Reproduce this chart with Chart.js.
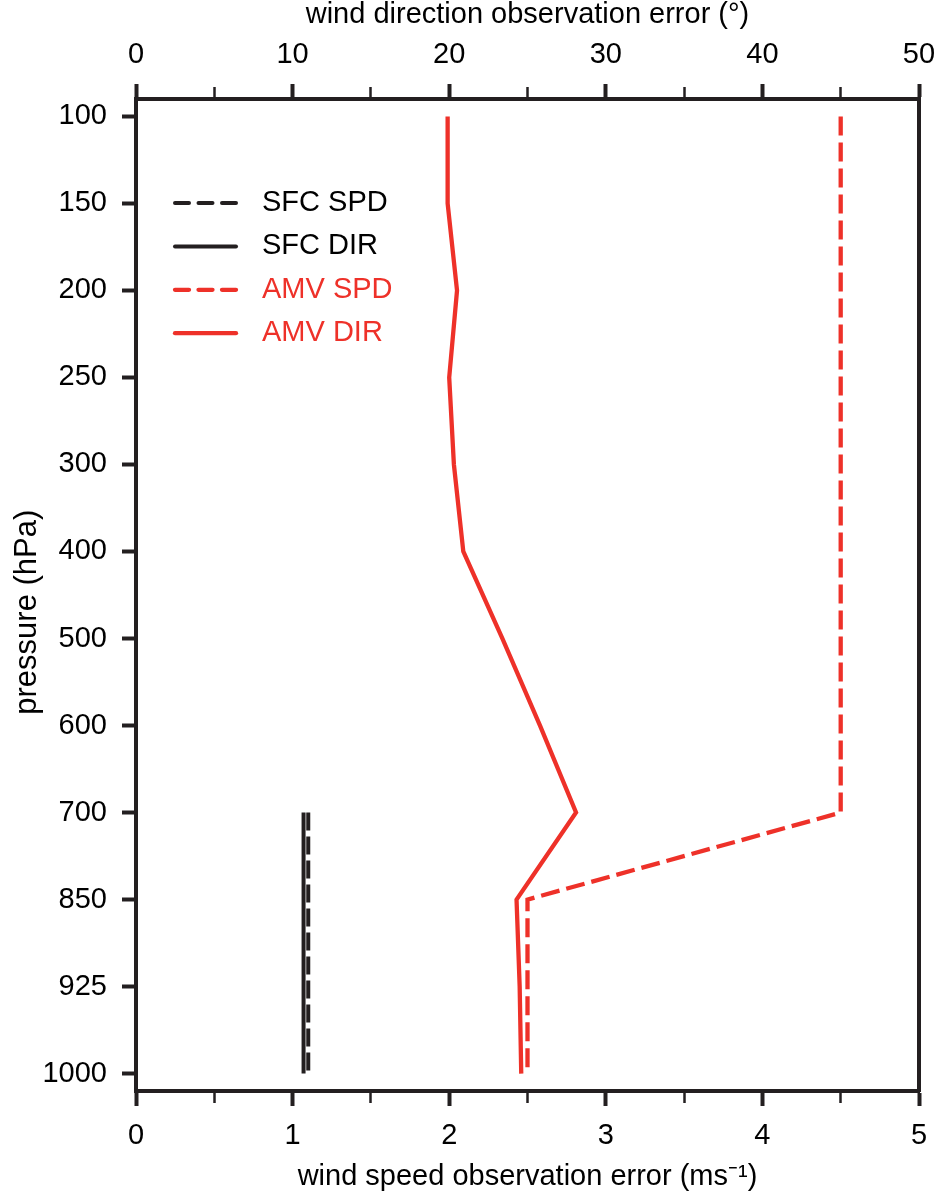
<!DOCTYPE html>
<html>
<head>
<meta charset="utf-8">
<script src="https://cdn.jsdelivr.net/npm/chart.js@4.4.1/dist/chart.umd.min.js"></script>
<style>
html,body{margin:0;padding:0;background:#fff;}
canvas{display:block;}
</style>
</head>
<body>
<canvas id="c" width="935" height="1193" style="width:935px;height:1193px"></canvas>
<script>
// ---------- data ----------
const pressureLevels = ['100','150','200','250','300','400','500','600','700','850','925','1000'];
const amvDirLevels = ['100','150','200','250','300','400','500','600','700','850','925','1000'];
const amvDir = [19.9, 19.9, 20.5, 20.0, 20.3, 20.9, 23.4, 25.8, 28.1, 24.3, 24.5, 24.6];
const amvSpdLevels = ['100','150','200','250','300','400','500','600','700','850','925','1000'];
const amvSpd = [4.5, 4.5, 4.5, 4.5, 4.5, 4.5, 4.5, 4.5, 4.5, 2.5, 2.5, 2.5];
const sfcLevels = ['700','850','925','1000'];
const sfcSpd = [1.1, 1.1, 1.1, 1.1];
const sfcDir = [10.7, 10.7, 10.7, 10.7];
const speedMajorTicks = [0, 1, 2, 3, 4, 5];
const speedMinorTicks = [0.5, 1.5, 2.5, 3.5, 4.5];
const dirMajorTicks = [0, 10, 20, 30, 40, 50];
const dirMinorTicks = [5, 15, 25, 35, 45];
const seriesLabels = ['SFC SPD', 'SFC DIR', 'AMV SPD', 'AMV DIR'];

// ---------- style ----------
const DARK = '#231f20';
const RED = '#ee3129';
const FONT = '"Liberation Sans", Arial, Helvetica, sans-serif';

const toPoints = (levels, vals) => levels.map((lv, i) => ({ x: vals[i], y: pressureLevels.indexOf(lv) }));

function tickSetup(major, minor) {
  return s => {
    s.ticks = major.concat(minor).sort((a, b) => a - b).map(v => ({ value: v }));
  };
}
function isMajor(ctx, major) {
  return ctx.tick && major.includes(ctx.tick.value);
}
function fixSize(prop, val) {
  return s => {
    s[prop] = val;
    s.paddingLeft = 0; s.paddingRight = 0; s.paddingTop = 0; s.paddingBottom = 0;
  };
}

const datasets = [
  { label: seriesLabels[0], data: toPoints(sfcLevels, sfcSpd), xAxisID: 'x', yAxisID: 'y',
    borderColor: DARK, borderWidth: 4, borderDash: [18, 6], labelColor: '#000' },
  { label: seriesLabels[1], data: toPoints(sfcLevels, sfcDir), xAxisID: 'x2', yAxisID: 'y',
    borderColor: DARK, borderWidth: 4, borderDash: [], labelColor: '#000' },
  { label: seriesLabels[2], data: toPoints(amvSpdLevels, amvSpd), xAxisID: 'x', yAxisID: 'y',
    borderColor: RED, borderWidth: 4.3, borderDash: [19, 7], labelColor: RED },
  { label: seriesLabels[3], data: toPoints(amvDirLevels, amvDir), xAxisID: 'x2', yAxisID: 'y',
    borderColor: RED, borderWidth: 4.3, borderDash: [], labelColor: RED }
].map(d => Object.assign({ showLine: true, pointRadius: 0, pointHoverRadius: 0, fill: false,
  tension: 0, borderJoinStyle: 'miter', borderCapStyle: 'butt' }, d));

const insetLegend = {
  id: 'insetLegend',
  afterDraw(chart) {
    const { ctx, chartArea } = chart;
    const x0 = chartArea.left + 37, y0 = chartArea.top + 104, rowH = 43.4, lineLen = 65;
    const textX = chartArea.left + 126;
    ctx.save();
    ctx.font = '29px ' + FONT;
    ctx.textBaseline = 'middle';
    ctx.textAlign = 'left';
    chart.data.datasets.forEach((ds, i) => {
      const y = y0 + i * rowH;
      ctx.strokeStyle = ds.borderColor;
      ctx.lineWidth = ds.borderWidth;
      ctx.lineCap = 'round';
      ctx.setLineDash(ds.borderDash.length ? [14, 9.5] : []);
      ctx.beginPath();
      ctx.moveTo(x0 + 2, y);
      ctx.lineTo(x0 + lineLen - 2, y);
      ctx.stroke();
      ctx.setLineDash([]);
      ctx.fillStyle = ds.labelColor;
      ctx.fillText(ds.label, textX, y);
    });
    ctx.restore();
  }
};

const tickFont = { family: FONT, size: 29 };
const titleFont = { family: FONT, size: 29, lineHeight: 1 };

new Chart(document.getElementById('c'), {
  type: 'scatter',
  data: { datasets },
  plugins: [insetLegend],
  options: {
    responsive: false,
    animation: false,
    layout: { padding: 0 },
    plugins: { legend: { display: false }, tooltip: { enabled: false } },
    scales: {
      x: {
        type: 'linear', position: 'bottom', min: 0, max: 5,
        afterBuildTicks: tickSetup(speedMajorTicks, speedMinorTicks),
        afterFit: fixSize('height', 102),
        ticks: { autoSkip: false, maxRotation: 0, color: '#000', font: tickFont, padding: 13,
          callback: v => speedMajorTicks.includes(v) ? String(v) : '' },
        grid: { display: true, drawOnChartArea: false, drawTicks: true, tickLength: 15,
          tickColor: DARK,
          tickWidth: c => isMajor(c, speedMajorTicks) ? 4 : 2.5,
          tickBorderDash: c => isMajor(c, speedMajorTicks) ? [] : [10, 100],
          tickBorderDashOffset: 0 },
        border: { display: true, color: DARK, width: 4 },
        title: { display: true, text: 'wind speed observation error (ms\u207B\u00B9)', color: '#000',
          font: titleFont, padding: { top: 0, bottom: 2 } }
      },
      x2: {
        type: 'linear', position: 'top', min: 0, max: 50,
        afterBuildTicks: tickSetup(dirMajorTicks, dirMinorTicks),
        afterFit: fixSize('height', 99),
        ticks: { autoSkip: false, maxRotation: 0, color: '#000', font: tickFont, padding: 12,
          callback: v => dirMajorTicks.includes(v) ? String(v) : '' },
        grid: { display: true, drawOnChartArea: false, drawTicks: true, tickLength: 15,
          tickColor: DARK,
          tickWidth: c => isMajor(c, dirMajorTicks) ? 4 : 2.5,
          tickBorderDash: c => isMajor(c, dirMajorTicks) ? [] : [10, 100],
          tickBorderDashOffset: c => isMajor(c, dirMajorTicks) ? 0 : 107 },
        border: { display: true, color: DARK, width: 4 },
        title: { display: true, text: 'wind direction observation error (\u00B0)', color: '#000',
          font: titleFont, padding: { top: 0, bottom: 0 } }
      },
      y: {
        type: 'linear', position: 'left', reverse: true, min: -0.2, max: 11.2,
        afterBuildTicks: s => { s.ticks = pressureLevels.map((_, i) => ({ value: i })); },
        afterFit: fixSize('width', 136),
        ticks: { autoSkip: false, color: '#000', font: tickFont, padding: 15,
          callback: v => pressureLevels[v] },
        grid: { display: true, drawOnChartArea: false, drawTicks: true, tickLength: 14,
          tickColor: DARK, tickWidth: 4 },
        border: { display: true, color: DARK, width: 4 },
        title: { display: true, text: 'pressure (hPa)\u00A0\u00A0\u00A0\u00A0', color: '#000',
          font: { family: FONT, size: 31, lineHeight: 1 }, padding: { top: 12, bottom: 0 } }
      },
      y2: {
        type: 'linear', position: 'right', min: 0, max: 1,
        afterFit: fixSize('width', 16),
        ticks: { display: false },
        grid: { display: false, drawTicks: false },
        border: { display: true, color: DARK, width: 4 }
      }
    }
  }
});
</script>
</body>
</html>
